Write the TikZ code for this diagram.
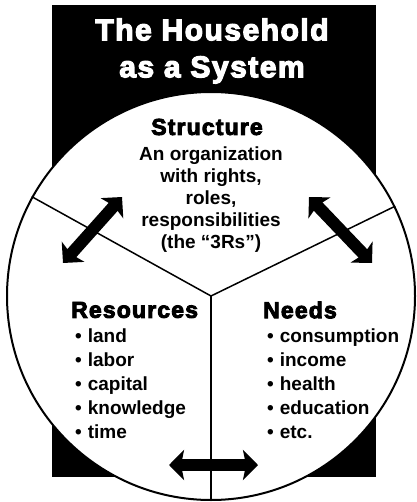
\documentclass[tikz,border=0pt]{standalone}
\usepackage{fontspec}
\setmainfont{Liberation Sans}
\newfontfamily\headfont{Liberation Sans}[BoldFeatures={FakeBold=4, LetterSpace=5}]
\usepackage{tikz}
\usetikzlibrary{arrows.meta, positioning}

\begin{document}
\begin{tikzpicture}[x=1pt, y=-1pt]
	
	% --- STYLES ---
	\tikzstyle{titletext} = [text=white, align=center, font=\headfont\bfseries\fontsize{30}{37}\selectfont]
	\tikzstyle{heading} = [inner sep=0pt, font=\headfont\bfseries\fontsize{23}{24}\selectfont]
	\tikzstyle{bodytext} = [inner sep=0pt, align=center, font=\bfseries\fontsize{19}{22}\selectfont]
	\tikzstyle{listtext} = [inner sep=0pt, align=left, font=\bfseries\fontsize{19}{24}\selectfont]
	\tikzstyle{divider} = [line width=1.5pt]
	\tikzstyle{fatarrow} = [line width=12pt, {Stealth[length=15pt, width=30pt, inset=3pt]}-{Stealth[length=15pt, width=30pt, inset=3pt]}]
	
	\useasboundingbox (0,0) rectangle (416,502);
	
	% --- BACKGROUND ---
	\fill[black] (52,5) rectangle (376,477);
	\node (disk) [circle, draw, line width=2pt, fill=white, minimum size=408pt, inner sep=0pt] at (211,296) {};
	
	% --- TITLE ---
	\node (title) [titletext] at (212,51) {The Household\\as a System};
	
	% --- DIVIDERS ---
	\draw [divider] (disk.center) -- (disk.151);
	\draw [divider] (disk.center) -- (disk.26);
	\draw [divider] (disk.center) -- (disk.south);
	
	% --- TEXT ---
	\node (structure) [heading] at (207,127) {Structure};
	\node (rights) [bodytext, below=11pt of structure, xshift=4pt] {An organization\\with rights,\\roles,\\responsibilities\\(the “3Rs”)};
	
	\node (resources) [heading, anchor=west] at (71,310) {Resources};
	\node (reslist) [listtext, below=10pt of resources.south west, anchor=north west, xshift=4pt] {\textbullet\hspace{6pt}land\\ \textbullet\hspace{6pt}labor\\ \textbullet\hspace{6pt}capital\\ \textbullet\hspace{6pt}knowledge\\ \textbullet\hspace{6pt}time};
	
	\node (needs) [heading, anchor=west] at (263,310) {Needs};
	\node (needlist) [listtext, below=10pt of needs.south west, anchor=north west, xshift=4pt] {\textbullet\hspace{6pt}consumption\\ \textbullet\hspace{6pt}income\\ \textbullet\hspace{6pt}health\\ \textbullet\hspace{6pt}education\\ \textbullet\hspace{6pt}etc.};
	
	% --- ARROWS ---
	\coordinate (lefttop) at (122,197);
	\coordinate (leftbot) at (63,263);
	\coordinate (righttop) at (309,197);
	\coordinate (rightbot) at (372,263);
	\coordinate (botleft) at (169,465);
	\coordinate (botright) at (258,465);
	
	\draw [fatarrow] (lefttop) -- (leftbot);
	\draw [fatarrow] (righttop) -- (rightbot);
	\draw [fatarrow] (botleft) -- (botright);
	
\end{tikzpicture}
\end{document}
